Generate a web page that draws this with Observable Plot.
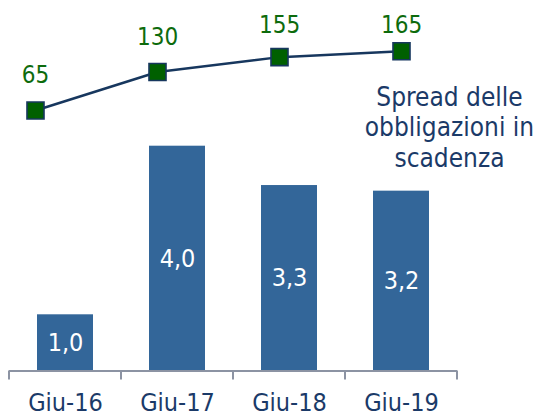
<!DOCTYPE html>
<html>
<head>
<meta charset="utf-8">
<script src="https://cdn.jsdelivr.net/npm/d3@7"></script>
<script src="https://cdn.jsdelivr.net/npm/@observablehq/plot@0.6"></script>
<style>
  html, body { margin: 0; padding: 0; background: #ffffff; }
  #chart { position: relative; width: 540px; height: 415px; overflow: hidden; }
  #chart svg { position: absolute; left: 0; top: 0; background: transparent; overflow: visible; }
</style>
</head>
<body>
<div id="chart"></div>
<script>
// ---- data ----
const categories = ["Giu-16", "Giu-17", "Giu-18", "Giu-19"];
const barValues = [1.0, 4.0, 3.3, 3.2];
const barLabels = ["1,0", "4,0", "3,3", "3,2"];
const spreadValues = [65, 130, 155, 165];
const spreadLabels = ["65", "130", "155", "165"];
const seriesName = "Spread delle\nobbligazioni in\nscadenza";

const bars = categories.map((c, i) => ({cat: c, v: barValues[i], label: barLabels[i]}));
const spread = categories.map((c, i) => ({cat: c, v: spreadValues[i], label: spreadLabels[i]}));

const FONT = "'DejaVu Sans Condensed', 'DejaVu Sans', sans-serif";
const NAVY = "#17375e";
const TEXT_NAVY = "#1b3a68";
const BAR = "#336699";
const GREEN = "#006000";
const LABEL_GREEN = "#0d6b0d";
const AXIS = "#8c93a3";

// category tick marks between bands (Excel style)
function categoryTicks(index, scales) {
  const x = scales.x, y = scales.y;
  const step = x(categories[1]) - x(categories[0]);
  const bounds = categories.map(c => x(c) - step * 0.25);
  bounds.push(x(categories[categories.length - 1]) + step * 0.75);
  const y0 = y(0);
  const g = d3.create("svg:g");
  g.selectAll("line").data(bounds).join("line")
    .attr("x1", d => d).attr("x2", d => d)
    .attr("y1", y0).attr("y2", y0 + 9)
    .attr("stroke", AXIS).attr("stroke-width", 2);
  return g.node();
}

const barPlot = Plot.plot({
  width: 540,
  height: 415,
  marginLeft: 9,
  marginRight: 83,
  marginTop: 0,
  marginBottom: 44.5,
  style: {fontFamily: FONT, background: "transparent"},
  x: {type: "band", domain: categories, paddingInner: 0.5, paddingOuter: 0.25},
  y: {domain: [0, 4], range: [370.5, 370.5 - 4 * 56.2], axis: null},
  marks: [
    Plot.barY(bars, {x: "cat", y: "v", fill: BAR}),
    Plot.text(bars, {x: "cat", y: d => d.v / 2, text: "label", fill: "white", fontSize: 25}),
    Plot.ruleY([0], {stroke: AXIS, strokeWidth: 2}),
    categoryTicks,
    Plot.axisX({tickSize: 0, tickPadding: 22, fontSize: 25, color: TEXT_NAVY, label: null})
  ]
});

const labelCeiling = 150; // labels kept inside the plot area (as in the source chart)

const linePlot = Plot.plot({
  width: 540,
  height: 415,
  margin: 0,
  style: {fontFamily: FONT, background: "transparent"},
  x: {type: "point", domain: categories, range: [33.3, 402], padding: 0, axis: null},
  y: {domain: [65, 165], range: [110, 50.7], axis: null},
  marks: [
    Plot.line(spread, {x: "cat", y: "v", stroke: NAVY, strokeWidth: 2.5}),
    Plot.dot(spread, {x: "cat", y: "v", symbol: "square", r: 9.6, fill: GREEN, stroke: NAVY, strokeWidth: 1.6}),
    Plot.text(spread, {x: "cat", y: d => Math.min(d.v, labelCeiling), dy: -35, text: "label", fill: LABEL_GREEN, fontSize: 24}),
    Plot.text([seriesName], {
      x: () => categories[categories.length - 1],
      y: () => spreadValues[spreadValues.length - 1],
      text: d => d, dx: 48, dy: 33, lineAnchor: "top", lineHeight: 1.17,
      fill: TEXT_NAVY, fontSize: 26, textAnchor: "middle"
    })
  ]
});

const chart = document.getElementById("chart");
chart.appendChild(barPlot);
chart.appendChild(linePlot);
</script>
</body>
</html>
